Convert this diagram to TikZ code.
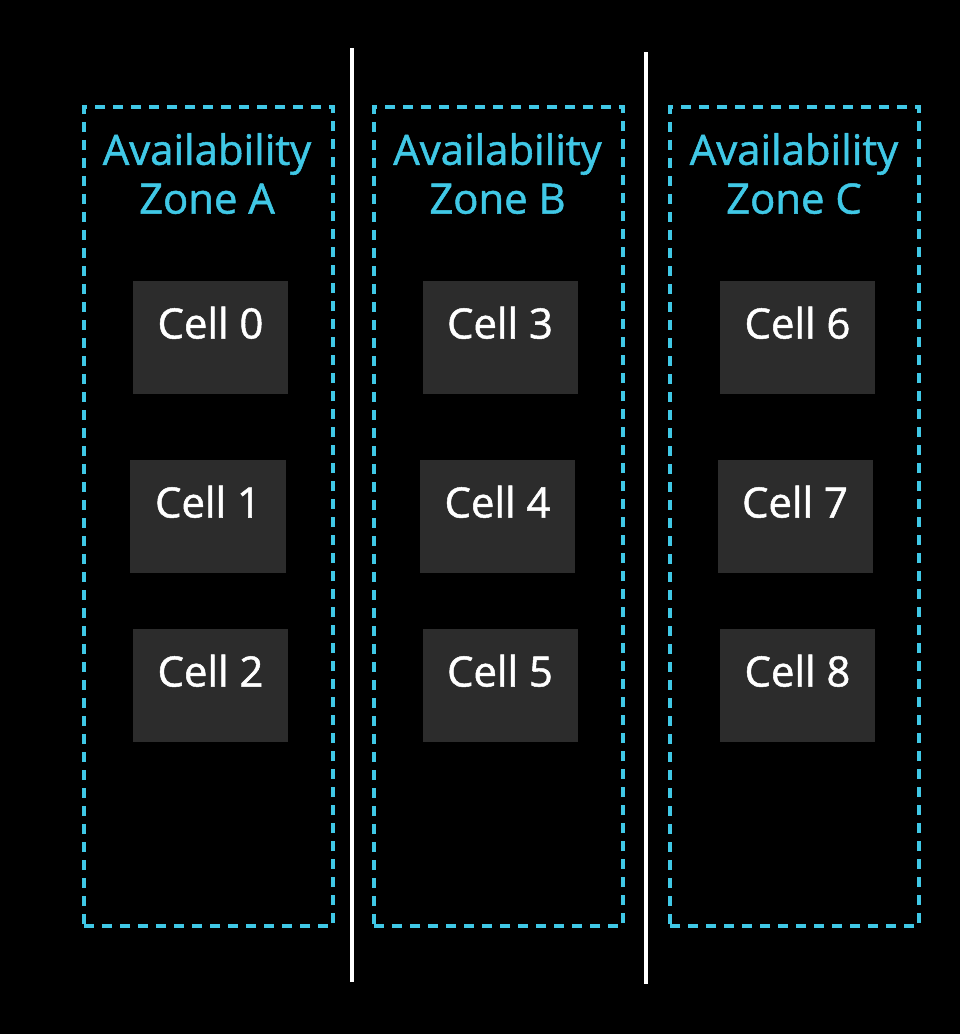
\documentclass[tikz,border=0pt]{standalone}
\usepackage{fontspec}
\setmainfont{Open Sans}
\newfontfamily\zonefont{Open Sans}[FakeBold=1.2]
\usepackage{xcolor}
\usetikzlibrary{positioning}
\definecolor{zonecyan}{RGB}{64,200,230}
\definecolor{cellgrey}{RGB}{44,44,44}

\begin{document}
\begin{tikzpicture}[x=0.5bp, y=-0.5bp,
    zonebox/.style={draw=zonecyan, line width=1.75bp, dash pattern=on 5bp off 4bp, minimum width=124.5bp, minimum height=409.5bp, inner sep=0pt},
    zonetitle/.style={text=zonecyan, align=center, font=\zonefont\fontsize{21}{24.5}\selectfont, inner sep=0pt},
    cellbox/.style={fill=cellgrey, text=white, minimum width=77.5bp, minimum height=56.5bp, inner sep=0pt, font=\zonefont\fontsize{21}{24.5}\selectfont, text height=16bp, text depth=15bp},
    divider/.style={white, line width=2bp}]
            \fill[black] (0,0) rectangle (960,1034);
            \useasboundingbox (0,0) rectangle (960,1034);
            \draw (208.5,516.5) node[zonebox]                  (zoneA) {};
            \draw (498.5,516.5) node[zonebox]                  (zoneB) {};
            \draw (794.5,516.5) node[zonebox]                  (zoneC) {};
            \draw (207,173.5) node[zonetitle]                  (titleA) {Availability\\Zone A};
            \draw (497.5,173.5) node[zonetitle]                (titleB) {Availability\\Zone B};
            \draw (794,173.5) node[zonetitle]                  (titleC) {Availability\\Zone C};
            \draw (210.5,337.5) node[cellbox]                  (cell0) {Cell 0};
            \draw (208,516.5) node[cellbox]                    (cell1) {Cell 1};
            \draw (210.5,685.5) node[cellbox]                  (cell2) {Cell 2};
            \draw (500,337.5) node[cellbox]                    (cell3) {Cell 3};
            \draw (497.5,516.5) node[cellbox]                  (cell4) {Cell 4};
            \draw (500,685.5) node[cellbox]                    (cell5) {Cell 5};
            \draw (797.5,337.5) node[cellbox]                  (cell6) {Cell 6};
            \draw (795,516.5) node[cellbox]                    (cell7) {Cell 7};
            \draw (797.5,685.5) node[cellbox]                  (cell8) {Cell 8};
            \coordinate (divAB-top) at (352,48);
            \coordinate (divAB-bot) at (352,982);
            \coordinate (divBC-top) at (646,52);
            \coordinate (divBC-bot) at (646,984);
            \draw[divider] (divAB-top) -- (divAB-bot);
            \draw[divider] (divBC-top) -- (divBC-bot);

            \end{tikzpicture}
\end{document}
